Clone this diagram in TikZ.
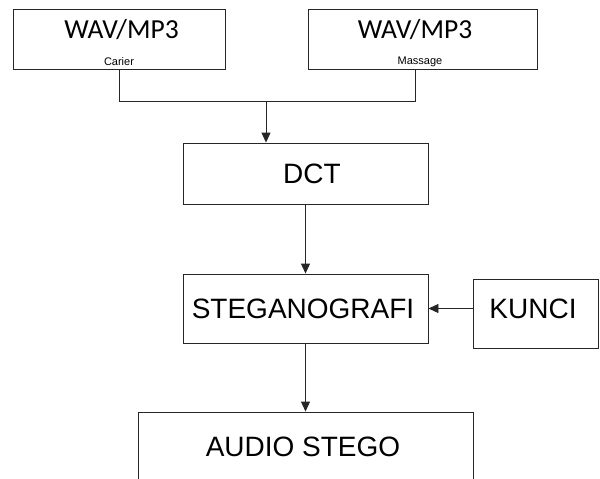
\documentclass[tikz,border=0pt]{standalone}
\usepackage{fontspec}
\setmainfont{Liberation Sans}
\newfontfamily\calfont{Carlito}
\usetikzlibrary{arrows.meta}
\begin{document}
\begin{tikzpicture}[x=1pt,y=1pt,
  box/.style={draw=black!85, line width=0.9pt, inner sep=0pt, fill=white},
  big/.style={inner sep=0pt, font=\fontsize{28}{30}\selectfont},
  head/.style={inner sep=0pt, font=\calfont\fontsize{27.5}{29}\selectfont},
  sub/.style={inner sep=0pt, font=\fontsize{11}{13}\selectfont},
  conn/.style={draw=black!85, line width=0.9pt},
  arr/.style={conn, -{Triangle[length=10pt,width=9pt]}}]
\useasboundingbox (0,0) rectangle (600,-479);
% top boxes
\node[box, minimum width=212pt, minimum height=60pt] (w1) at (119,-39) {};
\node[head] (w1t) at (121.5,-29.5) {WAV/MP3};
\node[sub] (w1s) at (119,-61.5) {Carier};
\node[box, minimum width=229pt, minimum height=60pt] (w2) at (422.5,-39) {};
\node[head] (w2t) at (415,-29.5) {WAV/MP3};
\node[sub] (w2s) at (420,-61.5) {Massage};
% DCT
\node[box, minimum width=245pt, minimum height=61pt] (dct) at (305.5,-173.5) {};
\node[big] (dctt) at (312,-173.5) {DCT};
% STEGANOGRAFI
\node[box, minimum width=245pt, minimum height=69pt] (steg) at (305.5,-308.5) {};
\node[big] (stegt) at (303,-308.5) {STEGANOGRAFI};
% KUNCI
\node[box, minimum width=125pt, minimum height=69pt] (kunci) at (535.5,-313.5) {};
\node[big] (kuncit) at (533,-309) {KUNCI};
% AUDIO STEGO
\node[box, minimum width=335pt, minimum height=100pt] (audio) at (305.5,-462) {};
\node[big] (audiot) at (303,-447) {AUDIO STEGO};
% connectors
\coordinate (j) at (266,-101);
\coordinate (w2b) at (415,-69);
\draw[conn] (w1.south) |- (j);
\draw[conn] (w2b) |- (j);
\draw[arr] (j) -- (j |- dct.north);
\draw[arr] (dct.south) -- (steg.north);
\draw[arr] (kunci.west |- steg.east) -- (steg.east);
\draw[arr] (steg.south) -- (audio.north);
\end{tikzpicture}
\end{document}
